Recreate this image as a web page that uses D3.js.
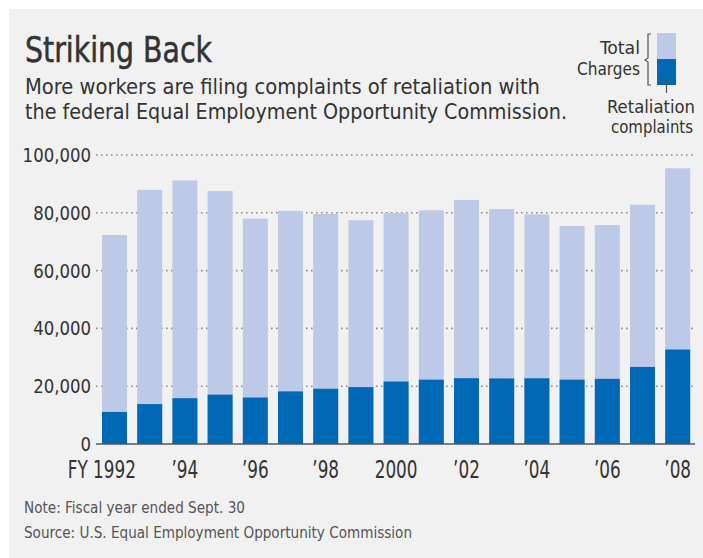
<!DOCTYPE html>
<html>
<head>
<meta charset="utf-8">
<script src="https://cdn.jsdelivr.net/npm/d3@7"></script>
<style>
  html, body { margin: 0; padding: 0; background: #fff; }
  svg { display: block; }
  text { font-family: "Liberation Sans Narrow", "DejaVu Sans Condensed", "Liberation Sans", sans-serif; }
</style>
</head>
<body>
<svg id="chart" width="703" height="558"></svg>
<script>
// fiscal years shown on the x axis
const years = [1992, 1993, 1994, 1995, 1996, 1997, 1998, 1999, 2000,
  2001, 2002, 2003, 2004, 2005, 2006, 2007, 2008];
// total charges filed with EEOC
const totalCharges = [72302, 87942, 91189, 87529, 77990, 80680, 79591, 77444, 79896,
  80840, 84442, 81293, 79432, 75428, 75768, 82792, 95402];
// retaliation complaints
const retaliation = [11096, 13814, 15853, 17070, 16080, 18198, 19114, 19694, 21613,
  22257, 22768, 22690, 22740, 22278, 22555, 26663, 32690];
const yTicks = [0, 20000, 40000, 60000, 80000, 100000];
const xLabels = { 1992: "1992", 1994: "\u201994", 1996: "\u201996", 1998: "\u201998",
  2000: "2000", 2002: "\u201902", 2004: "\u201904", 2006: "\u201906", 2008: "\u201908" };

const LIGHT = "#bccae8";
const DARK = "#0068b4";
const INK = "#333";

const svg = d3.select("#chart");

svg.append("rect")
  .attr("x", 9).attr("y", 9)
  .attr("width", 694).attr("height", 549)
  .attr("fill", "#f0f1f0");

// squeeze a text into the width it has in the reference
function fitText(x, y, str, size, width, anchor) {
  return svg.append("text")
    .attr("x", x).attr("y", y)
    .attr("font-size", size)
    .attr("fill", INK)
    .attr("text-anchor", anchor || "start")
    .attr("textLength", width)
    .attr("lengthAdjust", "spacingAndGlyphs")
    .text(str);
}

fitText(25, 62, "Striking Back", 35, 187).attr("stroke", INK).attr("stroke-width", 0.5);
fitText(25, 94, "More workers are filing complaints of retaliation with", 21, 515);
fitText(25, 119, "the federal Equal Employment Opportunity Commission.", 21, 542);

const y = d3.scaleLinear().domain([0, 100000]).range([444, 155]);
const x = d3.scaleBand()
  .domain(years)
  .range([102, 690.2])
  .paddingInner(0.29)
  .paddingOuter(0);

// dotted grid
svg.append("g")
  .selectAll("line")
  .data(yTicks.filter((d) => d > 0))
  .join("line")
  .attr("x1", 96).attr("x2", 693)
  .attr("y1", (d) => y(d)).attr("y2", (d) => y(d))
  .attr("stroke", "#8d8d8d")
  .attr("stroke-width", 1.6)
  .attr("stroke-dasharray", "1.6 3.4");

svg.append("g")
  .selectAll("text")
  .data(yTicks)
  .join("text")
  .attr("transform", (d) => `translate(91,${y(d) + 7}) scale(0.92,1)`)
  .attr("text-anchor", "end")
  .attr("font-size", 20)
  .attr("fill", INK)
  .text((d) => d3.format(",")(d));

const bars = svg.append("g");
bars.selectAll("rect.total")
  .data(years)
  .join("rect")
  .attr("class", "total")
  .attr("x", (d) => x(d))
  .attr("width", x.bandwidth())
  .attr("y", (d, i) => y(totalCharges[i]))
  .attr("height", (d, i) => y(0) - y(totalCharges[i]))
  .attr("fill", LIGHT);

bars.selectAll("rect.retal")
  .data(years)
  .join("rect")
  .attr("class", "retal")
  .attr("x", (d) => x(d))
  .attr("width", x.bandwidth())
  .attr("y", (d, i) => y(retaliation[i]))
  .attr("height", (d, i) => y(0) - y(retaliation[i]))
  .attr("fill", DARK);

svg.append("line")
  .attr("x1", 96).attr("x2", 695)
  .attr("y1", y(0)).attr("y2", y(0))
  .attr("stroke", "#555")
  .attr("stroke-width", 1.5);

// x labels, narrow and tall like the original
const xl = svg.append("g")
  .selectAll("text")
  .data(years.filter((d) => xLabels[d]))
  .join("text")
  .attr("transform", (d) => `translate(${x(d) + x.bandwidth() / 2},478) scale(0.78,1)`)
  .attr("text-anchor", "middle")
  .attr("font-size", 24)
  .attr("fill", INK)
  .text((d) => xLabels[d]);

xl.filter((d) => d === 1992)
  .attr("text-anchor", "end")
  .attr("dx", function () { return this.getComputedTextLength() / 2; })
  .text("FY 1992");

// legend
svg.append("path")
  .attr("d", "M651,34 L648,34 L648,58 L645,60 L648,62 L648,85 L651,85")
  .attr("fill", "none")
  .attr("stroke", "#555")
  .attr("stroke-width", 1.2);
svg.append("rect").attr("x", 657).attr("y", 33).attr("width", 19).attr("height", 26).attr("fill", LIGHT);
svg.append("rect").attr("x", 657).attr("y", 59).attr("width", 19).attr("height", 26).attr("fill", DARK);
svg.append("line")
  .attr("x1", 666.5).attr("x2", 666.5)
  .attr("y1", 78).attr("y2", 93)
  .attr("stroke", "#555").attr("stroke-width", 1.2);

fitText(640, 54, "Total", 18, 40, "end");
fitText(640, 75, "Charges", 18, 63, "end");
fitText(651, 113, "Retaliation", 18, 88, "middle");
fitText(652, 133, "complaints", 18, 82, "middle");

svg.append("text")
  .attr("x", 24).attr("y", 513)
  .attr("font-size", 15).attr("fill", "#555")
  .attr("textLength", 221).attr("lengthAdjust", "spacingAndGlyphs")
  .text("Note: Fiscal year ended Sept. 30");
svg.append("text")
  .attr("x", 24).attr("y", 538)
  .attr("font-size", 15).attr("fill", "#555")
  .attr("textLength", 388).attr("lengthAdjust", "spacingAndGlyphs")
  .text("Source: U.S. Equal Employment Opportunity Commission");
</script>
</body>
</html>
